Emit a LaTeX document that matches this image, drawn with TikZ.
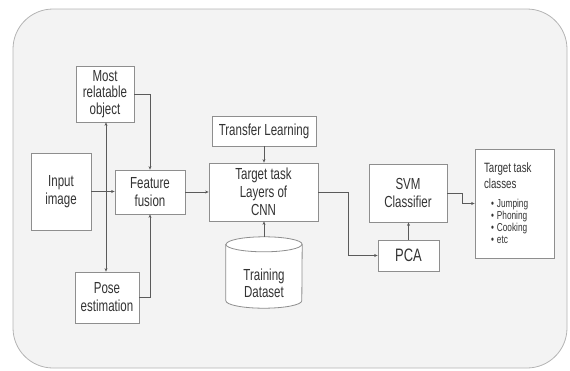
\documentclass[tikz,border=0pt]{standalone}
\usepackage{fontspec}
\setmainfont{Liberation Sans}[FakeStretch=0.72]
\usetikzlibrary{arrows.meta}
\definecolor{panelfill}{HTML}{F3F3F3}
\definecolor{panelline}{HTML}{B4B4B4}
\definecolor{boxline}{HTML}{8E8E8E}
\definecolor{wire}{HTML}{5A5A5A}
\definecolor{ink}{HTML}{333333}
\tikzset{
  x=1pt, y=1pt,
  box/.style={draw=boxline, line width=0.8pt, fill=white, inner sep=0pt,
    align=center, text=ink, font=\fontsize{16}{18}\selectfont},
  wirearrow/.style={draw=wire, line width=0.7pt,
    -{Stealth[length=3.5pt,width=3pt]}},
  wireboth/.style={draw=wire, line width=0.7pt,
    {Stealth[length=3.5pt,width=3pt]}-{Stealth[length=3.5pt,width=3pt]}}
}
\begin{document}
\begin{tikzpicture}
\useasboundingbox (0,0) rectangle (570,-370);
% rounded panel behind everything
\draw[fill=panelfill, draw=panelline, line width=0.8pt, rounded corners=40pt]
  (13,-9) rectangle (567,-368);

% boxes
\node[box, minimum width=58, minimum height=56, font=\fontsize{16}{16.5}\selectfont]
  (mro) at (105,-94) {Most\\relatable\\object};
\node[box, minimum width=60, minimum height=77] (input) at (61,-191.5) {Input\\image};
\node[box, minimum width=70, minimum height=44] (fusion) at (150,-192) {Feature\\fusion};
\node[box, minimum width=64, minimum height=51] (pose) at (107,-297.5) {Pose\\estimation};
\node[box, minimum width=104, minimum height=30] (transfer) at (264,-131) {Transfer Learning};
\node[box, minimum width=109, minimum height=58] (cnn) at (263.5,-192) {Target task\\Layers of\\CNN};
\node[box, minimum width=78, minimum height=58] (svm) at (408,-193) {SVM\\Classifier};
\node[box, minimum width=61, minimum height=31, font=\fontsize{18}{18}\selectfont]
  (pca) at (408.5,-255.5) {PCA};
\node[box, minimum width=79, minimum height=109, inner xsep=9pt] (classes) at (514.5,-203.5)
  {\begin{minipage}{61pt}\raggedright
   \fontsize{13.5}{16}\selectfont Target task\\classes\par
   \vspace{7pt}
   \fontsize{11.5}{12}\selectfont
   \hspace*{7pt}\textbullet\hspace{3pt}Jumping\\
   \hspace*{7pt}\textbullet\hspace{3pt}Phoning\\
   \hspace*{7pt}\textbullet\hspace{3pt}Cooking\\
   \hspace*{7pt}\textbullet\hspace{3pt}etc
   \end{minipage}};

% training data cylinder
\node[inner sep=0pt, minimum width=76, minimum height=71] (data) at (264,-272.5) {};
\draw[draw=boxline, line width=0.8pt, fill=white]
  ([yshift=-7.5pt]data.north west) -- ([yshift=7.5pt]data.south west)
  arc[start angle=180, end angle=360, x radius=38pt, y radius=7.5pt]
  -- ([yshift=-7.5pt]data.north east)
  arc[start angle=0, end angle=180, x radius=38pt, y radius=7.5pt] -- cycle;
\draw[draw=boxline, line width=0.8pt]
  ([yshift=-7.5pt]data.north west)
  arc[start angle=180, end angle=360, x radius=38pt, y radius=7.5pt];
\node[text=ink, align=center, font=\fontsize{16}{17}\selectfont] at (264,-283.5) {Training\\Dataset};

% connectors
\coordinate (vline) at (106,-192);
\draw[wireboth] (mro.south -| vline) -- (pose.north -| vline);
\draw[wirearrow] (mro.east) -| (fusion.north);
\draw[wirearrow] (pose.east) -| (fusion.south);
\draw[wirearrow] (input.east) -- (input.east -| fusion.west);
\draw[wirearrow] (fusion.east) -- (cnn.west);
\draw[wirearrow] (transfer.south) -- (transfer.south |- cnn.north);
\draw[wirearrow] (data.north) -- (data.north |- cnn.south);
\draw[wirearrow] (cnn.east) -- ++(30,0) |- (pca.west);
\draw[wirearrow] (pca.north) -- (pca.north |- svm.south);
\draw[wirearrow] (svm.east) -- ++(15,0) |- (classes.west);
\end{tikzpicture}
\end{document}
